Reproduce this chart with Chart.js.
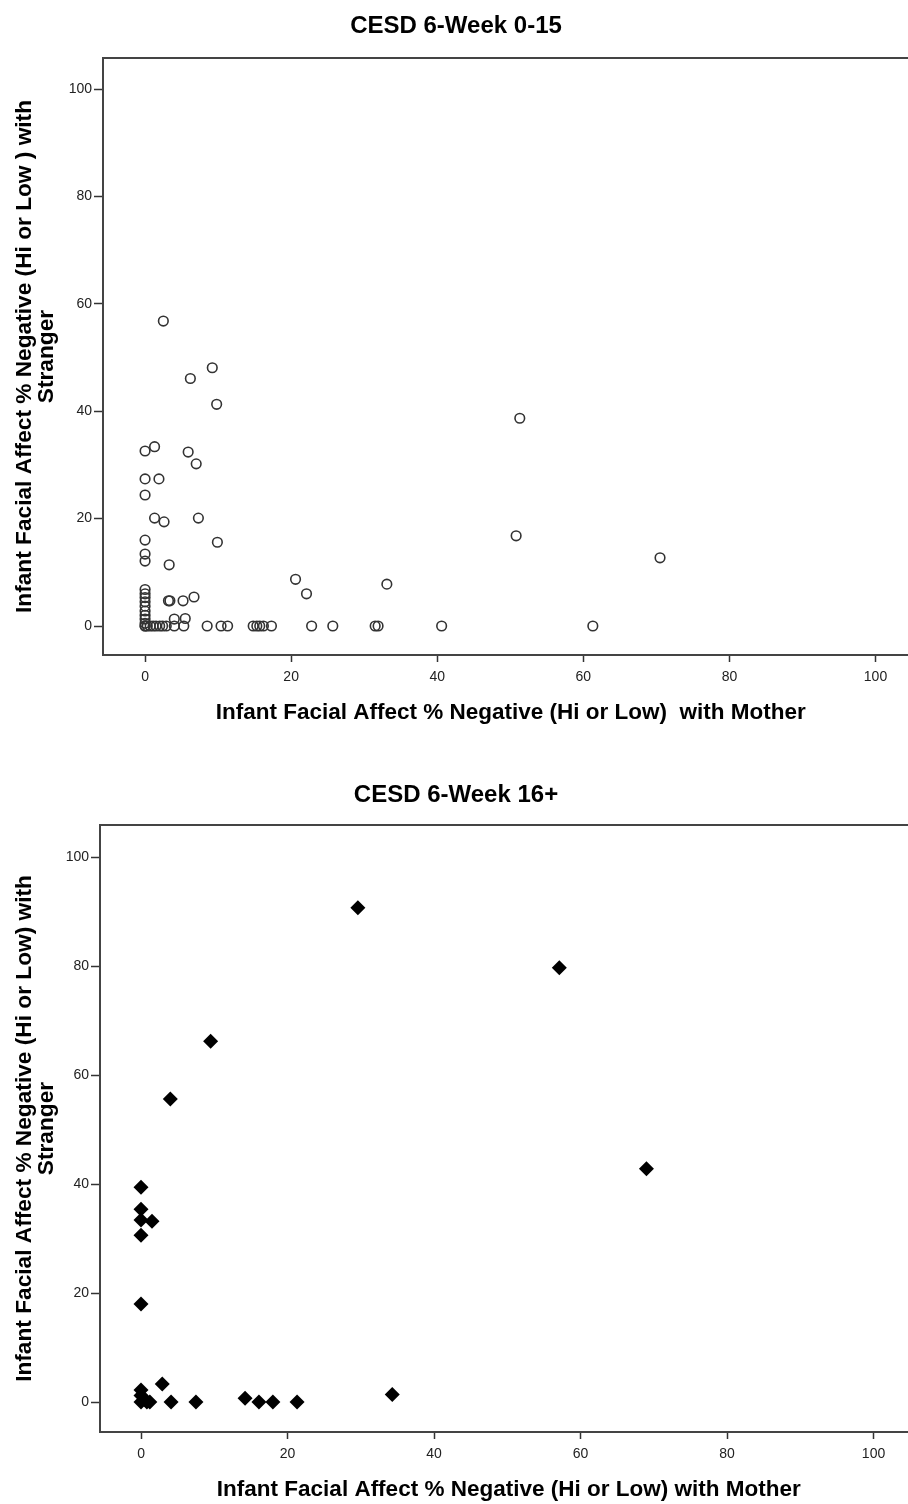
<!DOCTYPE html>
<html><head><meta charset="utf-8">
<script src="https://cdn.jsdelivr.net/npm/chart.js@4.4.0/dist/chart.umd.min.js"></script>
<style>
html,body{margin:0;padding:0;background:#fff;overflow:hidden;width:908px;height:1504px;}
.box{position:absolute;left:0;width:925px;height:752px;}
canvas{display:block;}
</style></head><body>
<div class="box" style="top:0"><canvas id="c1" width="925" height="752"></canvas></div>
<div class="box" style="top:752px"><canvas id="c2" width="925" height="752"></canvas></div>
<script>
// ---- text ----
const titleLow = 'CESD 6-Week 0-15';
const titleHigh = 'CESD 6-Week 16+';
const xTitleLow = 'Infant Facial Affect % Negative (Hi or Low)  with Mother';
const xTitleHigh = 'Infant Facial Affect % Negative (Hi or Low) with Mother';
const yTitleLow = ['Infant Facial Affect % Negative (Hi or Low ) with', 'Stranger'];
const yTitleHigh = ['Infant Facial Affect % Negative (Hi or Low) with', 'Stranger'];
const tickValues = [0, 20, 40, 60, 80, 100];

// ---- CESD 0-15 group (open circles) ----
const lowMother = [
  2.5, 9.2, 6.2, 9.8, 51.3, 1.3, 0, 5.9, 7.0, 0, 1.9, 0, 1.3, 2.6, 7.3, 9.9, 0, 0, 0, 3.3,
  50.8, 70.5, 20.6, 22.1, 33.1, 6.7, 3.2, 3.4, 5.2, 5.5, 4.0,
  0, 0, 0, 0, 0, 0, 0, 0, 0,
  0, 0, 0.3, 0.7, 1.1, 1.5, 2.0, 2.4, 2.9, 4.0, 5.3, 8.5, 10.4, 11.3, 14.8, 15.3, 15.7, 16.2,
  17.3, 22.8, 25.7, 31.5, 31.9, 40.6, 61.3
];
const lowStranger = [
  56.8, 48.1, 46.1, 41.3, 38.7, 33.4, 32.6, 32.4, 30.2, 27.4, 27.4, 24.4, 20.1, 19.4, 20.1, 15.6, 16.0, 13.4, 12.1, 11.4,
  16.8, 12.7, 8.7, 6.0, 7.8, 5.4, 4.7, 4.7, 4.7, 1.4, 1.3,
  6.8, 6.0, 5.3, 4.5, 3.7, 2.8, 2.0, 1.3, 0.5,
  0, 0, 0, 0, 0, 0, 0, 0, 0, 0, 0, 0, 0, 0, 0, 0, 0, 0,
  0, 0, 0, 0, 0, 0, 0
];

// ---- CESD 16+ group (filled diamonds) ----
const highMother = [
  29.6, 57.1, 9.5, 4.0, 69.0, 0, 0, 0, 1.5, 0, 0, 2.9, 34.3, 14.2,
  0, 0, 0, 0.5, 0.8, 1.2, 4.1, 7.5, 16.1, 18.0, 21.3
];
const highStranger = [
  90.7, 79.7, 66.2, 55.6, 42.8, 39.4, 35.4, 33.4, 33.2, 30.6, 18.0, 3.3, 1.4, 0.7,
  2.2, 1.2, 0, 0.5, 0, 0, 0, 0, 0, 0, 0
];

const FONT = "'Liberation Sans', Arial, sans-serif";

const framePlugin = {
  id: 'frame',
  beforeDatasetsDraw(chart) {
    const a = chart.chartArea, ctx = chart.ctx;
    ctx.save();
    ctx.strokeStyle = '#444';
    ctx.lineWidth = 2;
    ctx.strokeRect(a.left, a.top, a.right - a.left, a.bottom - a.top);
    ctx.restore();
  }
};

const headPlugin = {
  id: 'head',
  afterDraw(chart, args, opts) {
    const ctx = chart.ctx;
    ctx.save();
    ctx.font = 'bold 24px ' + FONT;
    ctx.fillStyle = '#000';
    ctx.textAlign = 'center';
    ctx.textBaseline = 'middle';
    ctx.fillText(opts.text, opts.cx, opts.cy);
    ctx.restore();
  }
};

function makeChart(id, cfg) {
  const pts = cfg.xs.map((x, i) => ({x: x, y: cfg.ys[i]}));
  return new Chart(document.getElementById(id), {
    type: 'scatter',
    data: {datasets: [{data: pts, ...cfg.point}]},
    plugins: [framePlugin, headPlugin],
    options: {
      responsive: false,
      animation: false,
      events: [],
      layout: {padding: {top: cfg.areaTop, left: 0, right: 0, bottom: 0}},
      plugins: {
        legend: {display: false},
        tooltip: {enabled: false},
        title: {display: false},
        head: {text: cfg.title, cx: 456, cy: cfg.titleY}
      },
      scales: {
        x: {
          type: 'linear', min: cfg.xmin, max: cfg.xmax,
          afterBuildTicks: s => { s.ticks = tickValues.map(v => ({value: v})); },
          afterFit: s => { s.height = cfg.xAxisH; s.paddingLeft = 0; s.paddingRight = 0; },
          grid: {display: true, drawOnChartArea: false, drawTicks: true, tickLength: 7, tickColor: '#333', tickWidth: 1.5},
          border: {display: false},
          ticks: {color: '#222', padding: 7, maxRotation: 0, font: {family: FONT, size: 14}},
          title: {display: true, text: cfg.xTitle, color: '#000',
                  font: {family: FONT, size: 22.5, weight: 'bold', lineHeight: 1.2},
                  padding: {top: 0, bottom: cfg.xTitleBottom}}
        },
        y: {
          type: 'linear', min: cfg.ymin, max: cfg.ymax,
          afterBuildTicks: s => { s.ticks = tickValues.map(v => ({value: v})); },
          afterFit: s => { s.width = cfg.yAxisW; s.paddingTop = 0; s.paddingBottom = 0; },
          grid: {display: true, drawOnChartArea: false, drawTicks: true, tickLength: 9, tickColor: '#333', tickWidth: 1.5},
          border: {display: false},
          ticks: {color: '#222', padding: 2, font: {family: FONT, size: 14}},
          title: {display: true, text: cfg.yTitle, color: '#000',
                  font: {family: FONT, size: 22.7, weight: 'bold', lineHeight: 0.98},
                  padding: {top: 13.5, bottom: 0}}
        }
      }
    }
  });
}

makeChart('c1', {
  xs: lowMother, ys: lowStranger, title: titleLow, xTitle: xTitleLow, yTitle: yTitleLow,
  areaTop: 58, titleY: 26,
  xmin: -5.76, xmax: 105.9, ymin: -5.4, ymax: 105.8,
  xAxisH: 97, yAxisW: 103, xTitleBottom: 25.5,
  point: {pointStyle: 'circle', pointRadius: 4.8, pointBorderWidth: 1.6,
          pointBorderColor: '#333', pointBackgroundColor: 'rgba(255,255,255,0)', showLine: false}
});

makeChart('c2', {
  xs: highMother, ys: highStranger, title: titleHigh, xTitle: xTitleHigh, yTitle: yTitleHigh,
  areaTop: 73, titleY: 43,
  xmin: -5.6, xmax: 106.0, ymin: -5.5, ymax: 105.9,
  xAxisH: 72, yAxisW: 100, xTitleBottom: 1,
  point: {pointStyle: 'rectRot', pointRadius: 7.5, pointBorderWidth: 0,
          pointBorderColor: '#000', pointBackgroundColor: '#000', showLine: false}
});
</script>
</body></html>
